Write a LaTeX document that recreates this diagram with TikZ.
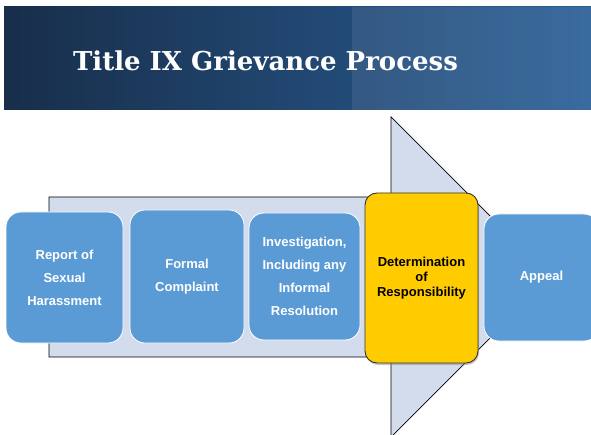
\documentclass[tikz,border=0pt]{standalone}
\usepackage{fontspec}
\setmainfont{Liberation Sans}
\newfontfamily\titlefont{DejaVu Serif}
\usetikzlibrary{shadows}

\definecolor{stepblue}{HTML}{5B9BD5}
\definecolor{arrowfill}{HTML}{D2DCEC}
\definecolor{bandark}{HTML}{182E4A}
\definecolor{banblue}{HTML}{2A5F97}
\definecolor{stepgold}{HTML}{FFCC00}

\begin{document}
\begin{tikzpicture}[x=1pt,y=-1pt,
    box/.style={rectangle,rounded corners=15pt,fill=stepblue,draw=white,
      line width=0.8pt,text=white,font=\bfseries\fontsize{13}{23}\selectfont,
      align=center,inner sep=2pt},
    chosen/.style={box,fill=stepgold,draw=black!80,text=black,
      rounded corners=12pt,line width=0.9pt,
      drop shadow={shadow xshift=1pt,shadow yshift=-2pt,opacity=0.45}}]

  \useasboundingbox (0,0) rectangle (591,435);

  % title banner
  \shade[left color=bandark,right color=banblue]
    (4,7) rectangle (591,110);
  \fill[white,opacity=0.08] (352,7) rectangle (591,110);
  \node[text=white,font=\titlefont\bfseries\fontsize{26}{30}\selectfont]
    (title) at (265.5,61) {Title IX Grievance Process};

  % big arrow behind the steps
  \draw[fill=arrowfill,line width=0.7pt] (49,197) -- (391,197) -- (391,117)
    -- (551,277) -- (391,437) -- (391,357) -- (49,357) -- cycle;

  \node[box,minimum width=117pt,minimum height=131pt] (report) at (64.5,277.5)
    {Report of\\Sexual\\Harassment};
  \node[box,minimum width=114pt,minimum height=133pt] (formal) at (187,276.5)
    {Formal\\Complaint};
  \node[box,minimum width=111pt,minimum height=127pt] (invest) at (304.5,276.5)
    {Investigation,\\Including any\\Informal\\Resolution};
  \node[chosen,minimum width=113pt,minimum height=170pt,
    font=\bfseries\fontsize{13}{15}\selectfont] (determ) at (421.5,278)
    {Determination\\of\\Responsibility};
  \node[box,minimum width=115pt,minimum height=127pt] (appeal) at (541.5,277.5)
    {Appeal};

\end{tikzpicture}
\end{document}
